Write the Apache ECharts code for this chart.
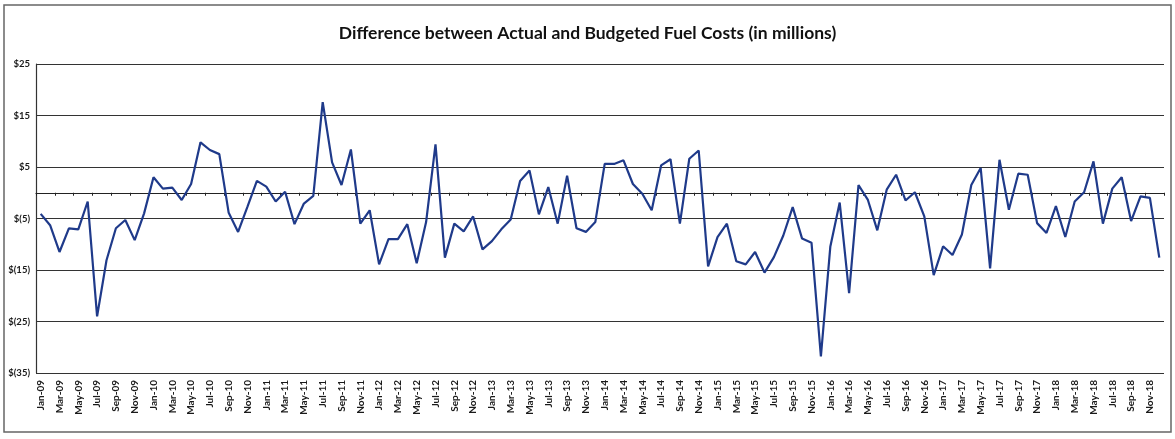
<!DOCTYPE html>
<html>
<head>
<meta charset="utf-8">
<script src="https://cdn.jsdelivr.net/npm/echarts@6/dist/echarts.min.js"></script>
<style>
html,body{margin:0;padding:0;background:#fff;}
#chart{width:1175px;height:439px;}
</style>
</head>
<body>
<div id="chart"></div>
<script>
const titleText = 'Difference between Actual and Budgeted Fuel Costs (in millions)';
const months = ['Jan','Feb','Mar','Apr','May','Jun','Jul','Aug','Sep','Oct','Nov','Dec'];
const years = ['09','10','11','12','13','14','15','16','17','18'];
const categories = [];
years.forEach(y => months.forEach(m => categories.push(m + '-' + y)));

const diff2009 = [-4.1, -6.3, -11.5, -6.9, -7.1, -1.7, -24.0, -13.1, -6.9, -5.3, -9.2, -4.0];
const diff2010 = [3.0, 0.8, 1.0, -1.4, 1.7, 9.8, 8.3, 7.5, -3.9, -7.6, -2.7, 2.3];
const diff2011 = [1.2, -1.7, 0.2, -6.1, -2.1, -0.6, 17.6, 5.9, 1.5, 8.4, -6.0, -3.4];
const diff2012 = [-13.9, -9.0, -9.0, -6.1, -13.7, -5.7, 9.4, -12.6, -6.0, -7.5, -4.6, -11.0];
const diff2013 = [-9.4, -7.1, -5.2, 2.3, 4.3, -4.2, 1.1, -6.0, 3.3, -6.9, -7.6, -5.7];
const diff2014 = [5.6, 5.6, 6.3, 1.7, -0.2, -3.4, 5.3, 6.5, -6.0, 6.6, 8.2, -14.3];
const diff2015 = [-8.6, -6.0, -13.3, -13.9, -11.5, -15.5, -12.5, -8.3, -2.8, -8.9, -9.7, -31.8];
const diff2016 = [-10.5, -1.9, -19.5, 1.5, -1.4, -7.3, 0.6, 3.5, -1.5, 0.1, -4.6, -16.0];
const diff2017 = [-10.4, -12.1, -8.1, 1.5, 4.8, -14.7, 6.4, -3.3, 3.7, 3.5, -5.9, -7.8];
const diff2018 = [-2.6, -8.6, -1.7, 0.1, 6.1, -6.0, 0.8, 3.0, -5.5, -0.7, -1.0, -12.6];
const values = [].concat(diff2009, diff2010, diff2011, diff2012, diff2013, diff2014, diff2015, diff2016, diff2017, diff2018);

const yMin = -35, yMax = 25, yStep = 10;

const chart = echarts.init(document.getElementById('chart'), null, {renderer: 'canvas'});
chart.setOption({
  backgroundColor: '#ffffff',
  animation: false,
  title: {
    text: titleText,
    left: 'center',
    top: 19,
    textStyle: {fontFamily: 'Lato', fontWeight: 'bold', fontSize: 17.5, color: '#111'}
  },
  grid: {left: 36, right: 11, top: 64, bottom: 66, containLabel: false},
  xAxis: [
    {
      type: 'category',
      data: categories,
      boundaryGap: true,
      axisLine: {show: false, onZero: false},
      axisTick: {show: false},
      splitLine: {show: false},
      axisLabel: {
        interval: 1, rotate: 90, margin: 7,
        fontFamily: 'Lato', fontWeight: 'bold', fontSize: 10, color: '#1a1a1a'
      }
    },
    {
      type: 'category',
      data: categories,
      position: 'bottom',
      boundaryGap: true,
      axisLine: {show: true, onZero: true, lineStyle: {color: '#222', width: 1.2}},
      axisTick: {show: true, interval: 1, length: 3, inside: false, lineStyle: {color: '#222', width: 1}},
      axisLabel: {show: false},
      splitLine: {show: false}
    }
  ],
  yAxis: {
    type: 'value',
    min: yMin, max: yMax, interval: yStep,
    axisLine: {show: true, lineStyle: {color: '#333', width: 1.2}},
    axisTick: {show: false},
    splitLine: {show: true, lineStyle: {color: '#333', width: 1.2}},
    axisLabel: {
      margin: 6,
      fontFamily: 'Lato', fontWeight: 'bold', fontSize: 9.5, color: '#1a1a1a',
      formatter: v => v < 0 ? '$(' + (-v) + ')' : '$' + v
    }
  },
  graphic: [{
    type: 'rect',
    shape: {x: 4, y: 5, width: 1167, height: 427},
    style: {fill: 'none', stroke: '#666', lineWidth: 1.5},
    silent: true
  }],
  series: [{
    type: 'line',
    xAxisIndex: 0,
    data: values,
    symbol: 'none',
    lineStyle: {color: '#1f3a8a', width: 2.2},
    z: 5
  }]
});
</script>
</body>
</html>
